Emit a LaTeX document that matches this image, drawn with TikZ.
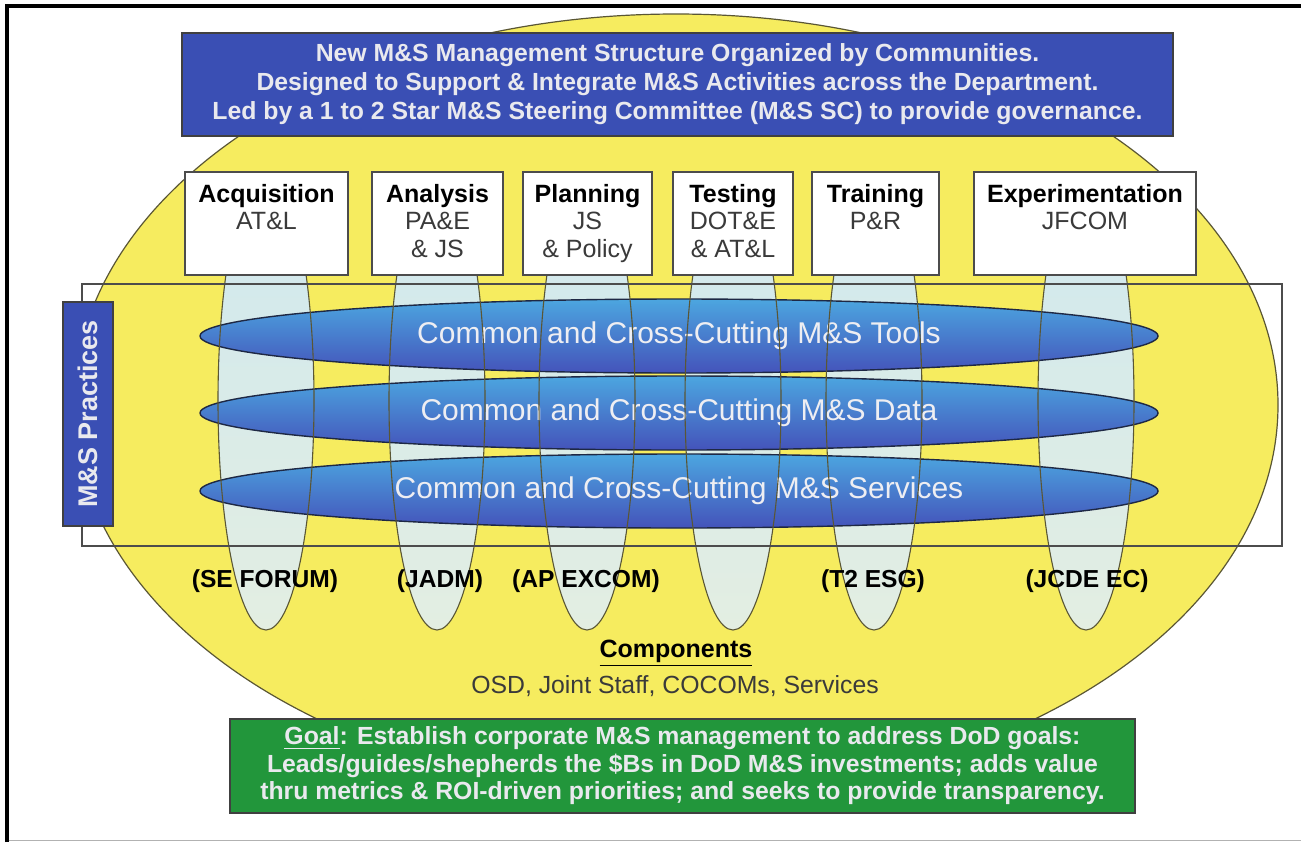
\documentclass[tikz,border=0pt]{standalone}
\usepackage{fontspec}
\setmainfont{Liberation Sans}
\usetikzlibrary{shapes.geometric}
\definecolor{worldyellow}{HTML}{F6EC5F}
\definecolor{edgebrown}{HTML}{5A5634}
\definecolor{headblue}{HTML}{3A4FB4}
\definecolor{goalgreen}{HTML}{22963B}
\definecolor{boxtext}{HTML}{E9E9EE}
\definecolor{pillartop}{HTML}{CFE8EF}
\definecolor{pillarbot}{HTML}{E3EEE2}
\definecolor{bandtop}{HTML}{4CA6E0}
\definecolor{bandbot}{HTML}{4453BA}
\definecolor{bandedge}{HTML}{1E2844}
\definecolor{bandtext}{HTML}{EEEEF2}
\definecolor{subgray}{HTML}{3A3A3A}
\begin{document}
\begin{tikzpicture}[x=0.5pt,y=-0.5pt]
\useasboundingbox (0,0) rectangle (1301,842);

% Style for nodes
\tikzstyle{pillar}=[ellipse,inner sep=0pt,top color=pillartop,bottom color=pillarbot,minimum width=48pt,minimum height=229pt]
\tikzstyle{rim}=[draw=edgebrown,line width=0.55pt]
\tikzstyle{band}=[ellipse,inner sep=0pt,draw=bandedge,line width=0.7pt,top color=bandtop,bottom color=bandbot,minimum width=479pt,minimum height=37pt,text=bandtext,font=\fontsize{15}{18}\selectfont]
\tikzstyle{bluebox}=[rectangle,draw=black!75,line width=0.8pt,text=boxtext,align=center,inner sep=0pt,font=\fontsize{12.4}{14.5}\selectfont\bfseries]
\tikzstyle{unit}=[rectangle,draw=black!70,fill=white,line width=0.8pt,align=center,inner sep=0pt,minimum height=51.5pt,font=\fontsize{12.5}{13.75}\selectfont,execute at begin node={\rule{0pt}{11.5pt}},execute at end node={\rule[-3pt]{0pt}{3pt}}]
\tikzstyle{forum}=[inner sep=0pt,font=\fontsize{12.3}{14}\selectfont\bfseries]

% Page frame
\draw[line width=2pt] (7,842) -- (7,6) -- (1301,6);
\draw[gray!60,line width=0.5pt] (9,840.5) -- (1301,840.5);

% The community oval
\node[ellipse,inner sep=0pt,draw=edgebrown,line width=0.6pt,fill=worldyellow,minimum width=602pt,minimum height=391pt] (world) at (676,405) {};
\node[bluebox,fill=headblue,minimum width=495.5pt,minimum height=51.5pt] (head) at (677.5,84.5) {New M\&S Management Structure Organized by Communities.\\Designed to Support \& Integrate M\&S Activities across the Department.\\Led by a 1 to 2 Star M\&S Steering Committee (M\&S SC) to provide governance.};

% Pillars under the communities
\node[pillar] (p1) at (266,401) {};
\node[pillar] (p2) at (437,401) {};
\node[pillar] (p3) at (587,401) {};
\node[pillar] (p4) at (733,401) {};
\node[pillar] (p5) at (874,401) {};
\node[pillar] (p6) at (1086,401) {};

% Cross-cutting bands
\node[band] (tools) at (679,336) {Common and Cross-Cutting M\&S Tools};
\node[band] (data) at (679,413) {Common and Cross-Cutting M\&S Data};
\node[band] (services) at (679,491) {Common and Cross-Cutting M\&S Services};

\draw[rim] (p1.center) ellipse [x radius=48,y radius=229];
\draw[rim] (p2.center) ellipse [x radius=48,y radius=229];
\draw[rim] (p3.center) ellipse [x radius=48,y radius=229];
\draw[rim] (p4.center) ellipse [x radius=48,y radius=229];
\draw[rim] (p5.center) ellipse [x radius=48,y radius=229];
\draw[rim] (p6.center) ellipse [x radius=48,y radius=229];

% The communities
\node[unit,minimum width=81.5pt] (acq) at (266.5,223.5) {\textbf{Acquisition}\\\textcolor{subgray}{AT\&L}\\\mbox{}};
\node[unit,minimum width=65.5pt] (ana) at (437.5,223.5) {\textbf{Analysis}\\\textcolor{subgray}{PA\&E}\\\textcolor{subgray}{\& JS}};
\node[unit,minimum width=64.5pt] (pla) at (587.5,223.5) {\textbf{Planning}\\\textcolor{subgray}{JS}\\\textcolor{subgray}{\& Policy}};
\node[unit,minimum width=60pt] (tes) at (733,223.5) {\textbf{Testing}\\\textcolor{subgray}{DOT\&E}\\\textcolor{subgray}{\& AT\&L}};
\node[unit,minimum width=63.5pt] (tra) at (875.5,223.5) {\textbf{Training}\\\textcolor{subgray}{P\&R}\\\mbox{}};
\node[unit,minimum width=111pt] (exp) at (1085,223.5) {\textbf{Experimentation}\\\textcolor{subgray}{JFCOM}\\\mbox{}};

% Practices frame
\node[draw=black!70,line width=0.6pt,minimum width=600pt,minimum height=131pt,inner sep=0pt] (practices) at (682,415) {};
\node[bluebox,fill=headblue,rotate=90,minimum width=112pt,minimum height=25pt,font=\fontsize{13.5}{16}\selectfont\bfseries] (tag) at (88,414) {M\&S Practices};

% Forums
\node[forum] (f1) at (265,581) {(SE FORUM)};
\node[forum] (f2) at (440,581) {(JADM)};
\node[forum] (f3) at (586,581) {(AP EXCOM)};
\node[forum] (f5) at (873,581) {(T2 ESG)};
\node[forum] (f6) at (1087,581) {(JCDE EC)};

\node[inner sep=0pt,font=\fontsize{12.5}{15}\selectfont\bfseries] (comp) at (676,653) {\underline{Components}};
\node[inner sep=0pt,font=\fontsize{12.4}{15}\selectfont,text=subgray] (members) at (675,686) {OSD, Joint Staff, COCOMs, Services};

% Goal
\node[bluebox,fill=goalgreen,minimum width=452.5pt,minimum height=47pt,font=\fontsize{12.4}{13.75}\selectfont\bfseries] (goal) at (682.5,766) {\underline{Goal}: Establish corporate M\&S management to address DoD goals:\\Leads/guides/shepherds the \$Bs in DoD M\&S investments; adds value\\thru metrics \& ROI-driven priorities; and seeks to provide transparency.};
\end{tikzpicture}
\end{document}
